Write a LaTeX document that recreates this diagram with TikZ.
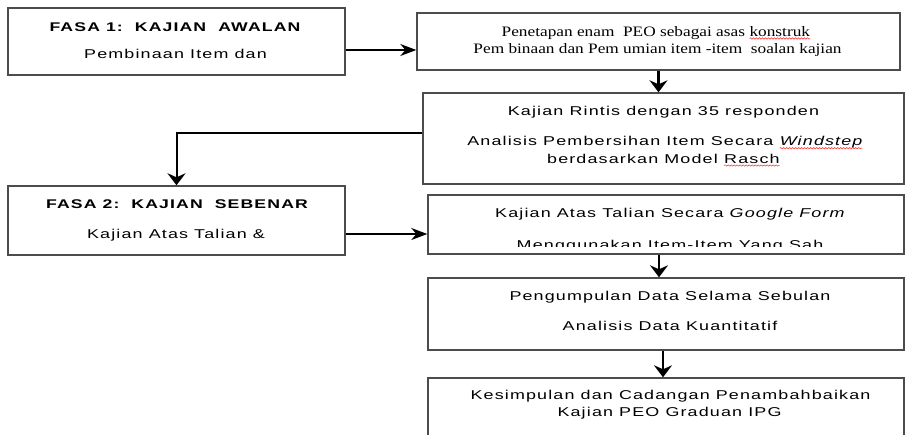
\documentclass[tikz,border=0pt]{standalone}
\usepackage{fontspec}
\usepackage{xcolor}
\usetikzlibrary{arrows.meta,decorations.pathmorphing}
\newfontfamily\arialx{Liberation Sans}[FakeStretch=1.4,LetterSpace=9,
  BoldFeatures={FakeStretch=1.4},ItalicFeatures={FakeStretch=1.4}]
\newfontfamily\timesx{Liberation Serif}[FakeStretch=1.2]
\newcommand\redwave[1]{\tikz[baseline=(w.base)]{\node[inner sep=0pt,outer sep=0pt,anchor=base](w){#1};
  \draw[red!85,line width=0.5pt,decorate,decoration={snake,amplitude=0.7pt,segment length=3pt}]([yshift=-2.5pt]w.base west)--([yshift=-2.5pt]w.base east);}}
\begin{document}
\begin{tikzpicture}[x=1pt,y=-1pt,
  box/.style={draw=black!70,line width=1.4pt,inner sep=0pt},
  txt/.style={anchor=base,inner sep=0pt,text=black,font=\arialx\fontsize{12.8}{15}\selectfont},
  ttl/.style={txt,font=\arialx\bfseries\fontsize{12.6}{15}\selectfont},
  ser/.style={txt,font=\timesx\fontsize{14.4}{17}\selectfont},
  harr/.style={line width=1.6pt,-{Stealth[length=16pt,width=12pt,inset=5pt]}},
  varr/.style={line width=2.2pt,-{Stealth[length=12pt,width=18pt,inset=4pt]}}]
\path[use as bounding box](0,0)rectangle(905,434);
\clip(0,0)rectangle(905,434);
% kotak
\node[box,minimum width=337pt,minimum height=67pt](fasa1)at(176.5,41.5){};
\node[box,minimum width=483pt,minimum height=57pt](peo)at(658.5,41.5){};
\node[box,minimum width=481pt,minimum height=91pt](rintis)at(663.5,138.5){};
\node[box,minimum width=337pt,minimum height=69pt](fasa2)at(176.5,220.5){};
\node[box,minimum width=476pt,minimum height=59pt](talian)at(666,224.5){};
\node[box,minimum width=476pt,minimum height=72pt](kumpul)at(666,314){};
\node[box,minimum width=476pt,minimum height=72pt](kesimp)at(666,414){};
% teks
\node[ttl](fasa1a)at(175,31){FASA 1:\ \ KAJIAN\ \ AWALAN};
\node[txt](fasa1b)at(175.5,58){Pembinaan Item dan};
\node[ser](peoa)at(656,36){Penetapan enam\ \ PEO sebagai asas \redwave{konstruk}};
\node[ser](peob)at(657.5,53.3){Pem binaan dan Pem umian item -item\ \ soalan kajian};
\node[txt](rintisa)at(663.5,115){Kajian Rintis dengan 35 responden};
\node[txt](rintisb)at(665,145.7){Analisis Pembersihan Item Secara \redwave{\itshape Windstep}};
\node[txt](rintisc)at(663.5,163){berdasarkan Model \redwave{Rasch}};
\node[ttl](fasa2a)at(177,208){FASA 2:\ \ KAJIAN\ \ SEBENAR};
\node[txt](fasa2b)at(176,238){Kajian Atas Talian \&};
\node[txt](taliana)at(670.5,217.7){Kajian Atas Talian Secara \textit{Google\ Form}};
\begin{scope}
\clip(428,195)rectangle(904,246);
\node[txt](talianb)at(670,249){Menggunakan Item-Item Yang Sah};
\end{scope}
\node[txt](kumpula)at(670,300.7){Pengumpulan Data Selama Sebulan};
\node[txt](kumpulb)at(670,330){Analisis Data Kuantitatif};
\node[txt](kesimpa)at(670.5,399){Kesimpulan dan Cadangan Penambahbaikan};
\node[txt](kesimpb)at(669.5,416.7){Kajian PEO Graduan IPG};
% anak panah
\coordinate(a1)at([yshift=-8.5pt]fasa1.east);
\coordinate(a3)at([yshift=5.5pt]rintis.west);
\coordinate(a4)at([yshift=-13.5pt]fasa2.east);
\coordinate(a5)at([xshift=-7pt]talian.south);
\coordinate(a6)at([xshift=-3pt]kumpul.south);
\draw[harr](a1)--(a1-|peo.west);
\draw[varr](peo.south)--(peo.south|-rintis.north);
\draw[varr,line width=2pt](a3)-|(fasa2.north);
\draw[harr](a4)--(a4-|talian.west);
\draw[varr](a5)--(a5|-kumpul.north);
\draw[varr](a6)--(a6|-kesimp.north);
\end{tikzpicture}
\end{document}
